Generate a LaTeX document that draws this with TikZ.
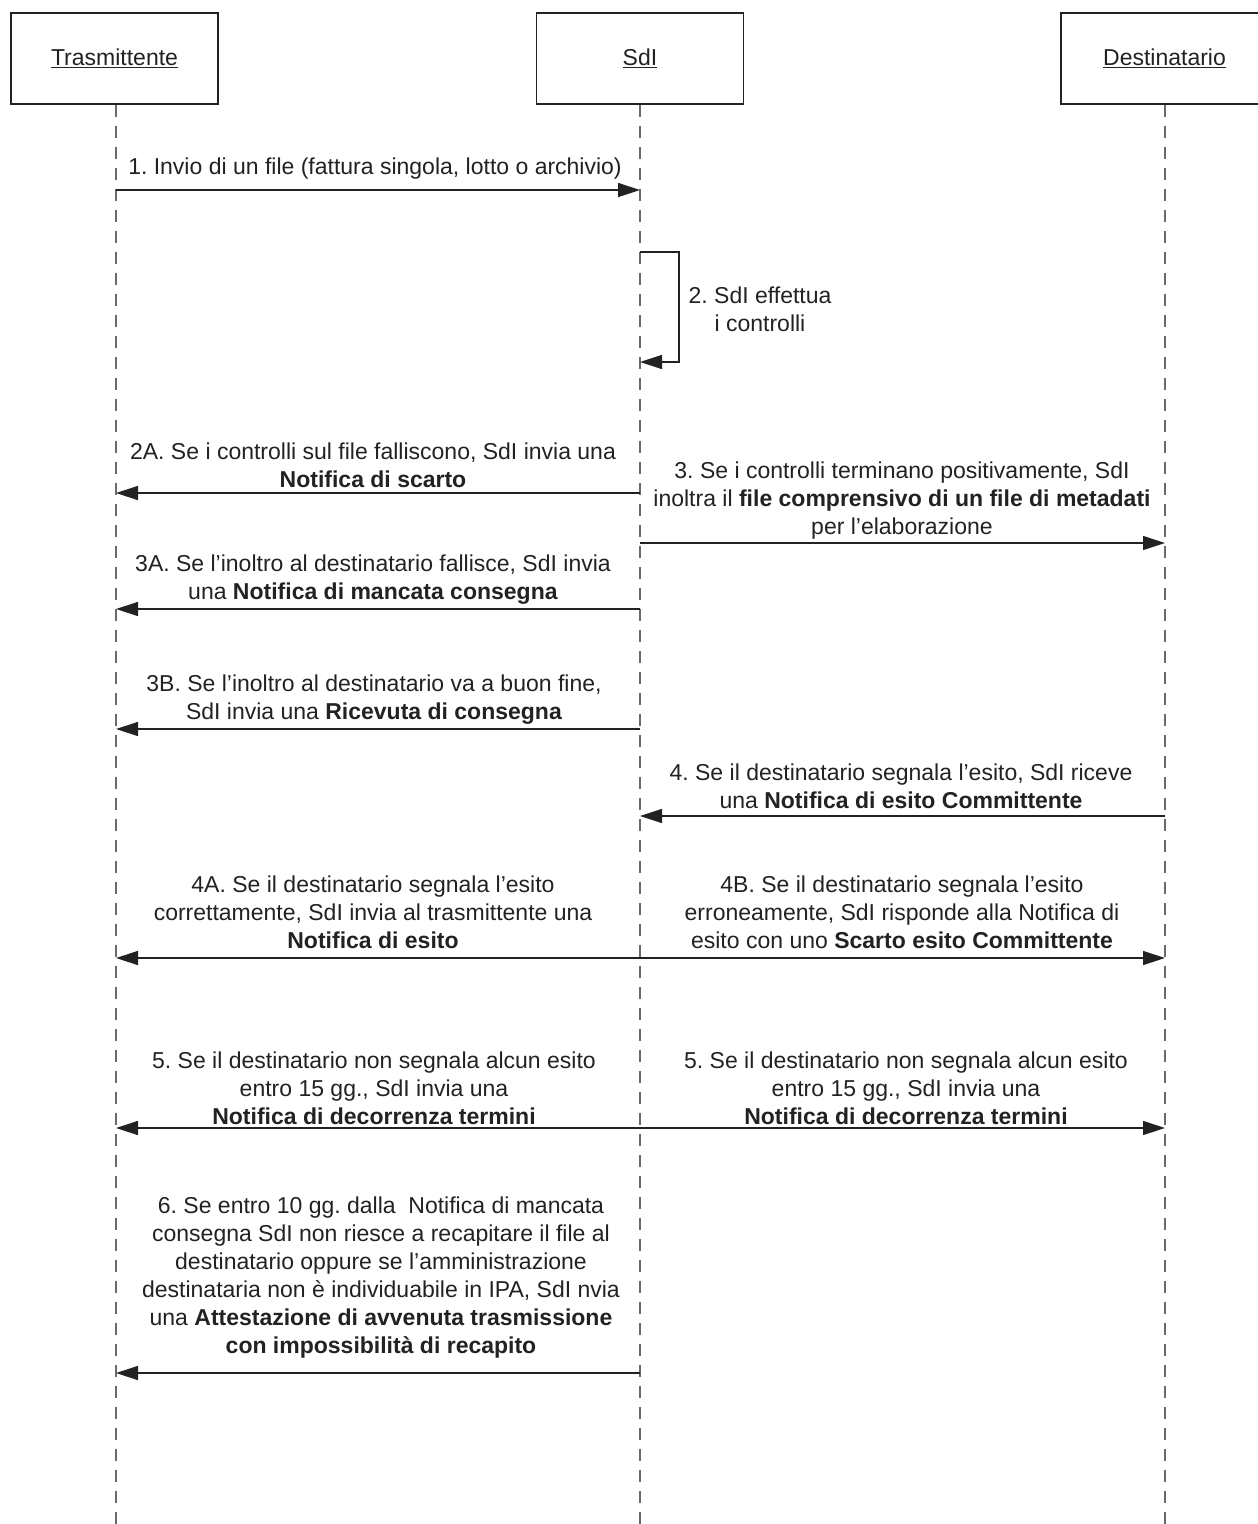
\documentclass[tikz,border=0pt]{standalone}
\usepackage{fontspec}
\setmainfont{Liberation Sans}
\usetikzlibrary{arrows.meta}
\definecolor{ink}{HTML}{222222}
\definecolor{lifegray}{HTML}{6A6A6A}
\frenchspacing
\begin{document}
\begin{tikzpicture}[x=1pt,y=-1pt,
  actor/.style={draw=ink, line width=1.3pt, minimum width=207pt, minimum height=91pt,
    inner sep=0pt, text=ink, font=\fontsize{23}{28}\selectfont},
  life/.style={draw=lifegray, line width=1.6pt, dash pattern=on 12pt off 9pt},
  msg/.style={draw=ink, line width=1.3pt, -{Triangle[length=22pt,width=14pt]}},
  dmsg/.style={draw=ink, line width=1.3pt, {Triangle[length=22pt,width=14pt]}-{Triangle[length=22pt,width=14pt]}},
  lbl/.style={align=center, inner sep=0pt, text=ink, font=\fontsize{23}{28}\selectfont}]
\clip (0,0) rectangle (1258,1524);
\fill[white] (0,0) rectangle (1258,1524);
% actors
\node[actor] (T) at (114.5,58.5) {\underline{Trasmittente}};
\node[actor] (S) at (640,58.5) {\underline{SdI}};
\node[actor] (D) at (1164.5,58.5) {\underline{Destinatario}};
% lifeline ends
\coordinate (Tb) at (116,1530);
\coordinate (Sb) at (640,1530);
\coordinate (Db) at (1165,1530);
\draw[life] (T.south -| Tb) -- (Tb);
\draw[life] (S.south -| Sb) -- (Sb);
\draw[life] (D.south -| Db) -- (Db);
% message points
\coordinate (t1) at (116,190);  \coordinate (s1) at (640,190);
\coordinate (s2a) at (640,252); \coordinate (s2r) at (679,252); \coordinate (s2b) at (640,362);
\coordinate (s2A) at (640,493); \coordinate (t2A) at (116,493);
\coordinate (s3) at (640,543);  \coordinate (d3) at (1165,543);
\coordinate (s3A) at (640,609); \coordinate (t3A) at (116,609);
\coordinate (s3B) at (640,729); \coordinate (t3B) at (116,729);
\coordinate (d4) at (1165,816); \coordinate (s4) at (640,816);
\coordinate (t4) at (116,958);  \coordinate (d4b) at (1165,958);
\coordinate (t5) at (116,1128); \coordinate (d5) at (1165,1128);
\coordinate (s6) at (640,1373); \coordinate (t6) at (116,1373);
% messages
\draw[msg] (t1) -- (s1);
\draw[msg] (s2a) -- (s2r) |- (s2b);
\draw[msg] (s2A) -- (t2A);
\draw[msg] (s3) -- (d3);
\draw[msg] (s3A) -- (t3A);
\draw[msg] (s3B) -- (t3B);
\draw[msg] (d4) -- (s4);
\draw[dmsg] (t4) -- (d4b);
\draw[dmsg] (t5) -- (d5);
\draw[msg] (s6) -- (t6);
% labels
\node[lbl] (l1) at (375,169) {1. Invio di un file (fattura singola, lotto o archivio)};
\node[lbl] (l2) at (760,309) {2. SdI effettua\\i controlli};
\node[lbl] (l2A) at (373,465) {2A. Se i controlli sul file falliscono, SdI invia una\\\textbf{Notifica di scarto}};
\node[lbl] (l3) at (902,501) {3. Se i controlli terminano positivamente, SdI\\inoltra il \textbf{file comprensivo di un file di metadati}\\per l’elaborazione};
\node[lbl] (l3A) at (373,580) {3A. Se l’inoltro al destinatario fallisce, SdI invia\\una \textbf{Notifica di mancata consegna}};
\node[lbl] (l3B) at (374,700) {3B. Se l’inoltro al destinatario va a buon fine,\\SdI invia una \textbf{Ricevuta di consegna}};
\node[lbl] (l4) at (901,786) {4. Se il destinatario segnala l’esito, SdI riceve\\una \textbf{Notifica di esito Committente}};
\node[lbl] (l4A) at (373,912) {4A. Se il destinatario segnala l’esito\\correttamente, SdI invia al trasmittente una\\\textbf{Notifica di esito}};
\node[lbl] (l4B) at (902,912) {4B. Se il destinatario segnala l’esito\\erroneamente, SdI risponde alla Notifica di\\esito con uno \textbf{Scarto esito Committente}};
\node[lbl] (l5L) at (374,1088) {5. Se il destinatario non segnala alcun esito\\entro 15 gg., SdI invia una\\\textbf{Notifica di decorrenza termini}};
\node[lbl] (l5R) at (906,1088) {5. Se il destinatario non segnala alcun esito\\entro 15 gg., SdI invia una\\\textbf{Notifica di decorrenza termini}};
\node[lbl] (l6) at (381,1278) {6. Se entro 10 gg. dalla\ \ Notifica di mancata\\consegna SdI non riesce a recapitare il file al\\destinatario oppure se l’amministrazione\\destinataria non è individuabile in IPA, SdI nvia\\una \textbf{Attestazione di avvenuta trasmissione}\\\textbf{con impossibilità di recapito}};
\end{tikzpicture}
\end{document}
